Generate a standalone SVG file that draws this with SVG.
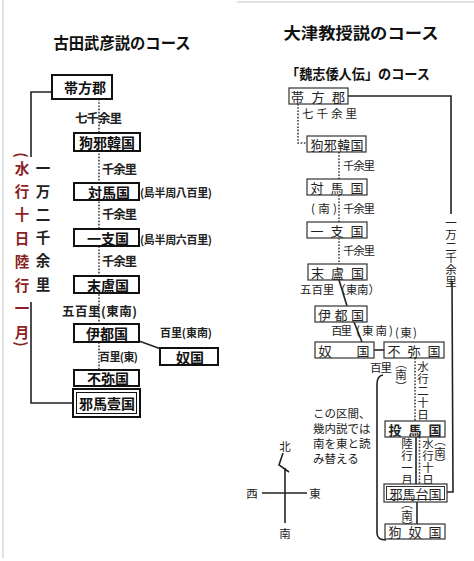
<svg xmlns="http://www.w3.org/2000/svg" width="474" height="561" viewBox="0 0 474 561">
<style>
text{font-family:"Noto Sans CJK JP","Noto Sans CJK SC",sans-serif;dominant-baseline:central;fill:#111}
.t{font-size:16px;font-weight:bold;text-anchor:middle}
.lb{fill:#fff;stroke:#111;stroke-width:2}
.ln{font-size:14px;font-weight:bold;text-anchor:middle}
.ll{font-size:12.5px;font-weight:bold;fill:#222}
.ls{font-size:11px;font-weight:bold;fill:#222}
.red{fill:#8a1f24;font-size:14.5px;font-weight:bold}
.blk{font-size:14.5px;font-weight:bold;fill:#222}
.vt{writing-mode:vertical-rl;text-anchor:start}
.par{text-anchor:middle}
.rb{fill:#fff;stroke:#333;stroke-width:1.2}
.rn{font-size:13px;text-anchor:middle;fill:#222}
.rl{font-size:11.5px;fill:#222}
.rv{font-size:11.5px;fill:#222}
.sol{fill:none;stroke:#222;stroke-width:1.6}
.dot{fill:none;stroke:#333;stroke-width:1.5;stroke-dasharray:1.6 1.6}
.edge{stroke:#d8d8d8;stroke-width:1.5}
</style>
<rect width="474" height="561" fill="#fff"/>
<line class="edge" x1="3" y1="0" x2="3" y2="558"/>
<line class="edge" x1="237" y1="2" x2="474" y2="2"/>

<!-- ============ LEFT: 古田武彦説 ============ -->
<text class="t" x="122" y="42" textLength="137" lengthAdjust="spacingAndGlyphs">古田武彦説のコース</text>

<g id="left-connectors">
  <polyline class="sol" points="52,92 31,92 31,157"/>
  <polyline class="sol" points="31,302 31,403 73,403"/>
  <line class="dot" x1="99" y1="99" x2="99" y2="370"/>
  <line class="sol" x1="139" y1="341" x2="161" y2="349"/>
</g>

<g id="left-labels">
  <text class="ll" x="75" y="117" textLength="47">七千余里</text>
  <text class="ll" x="102" y="168" textLength="35">千余里</text>
  <text class="ls" x="140" y="192" textLength="72">(島半周八百里)</text>
  <text class="ll" x="102" y="213" textLength="35">千余里</text>
  <text class="ls" x="140" y="239" textLength="72">(島半周六百里)</text>
  <text class="ll" x="102" y="260" textLength="35">千余里</text>
  <text class="ll" x="62" y="310" textLength="75">五百里(東南)</text>
  <text class="ls" x="160" y="332" textLength="52">百里(東南)</text>
  <text class="ls" x="99" y="356" textLength="39">百里(東)</text>
</g>

<g id="left-vertical">
  <text class="red par" font-size="13" transform="translate(22,155) rotate(90)">(</text>
  <text class="red vt" x="22" y="160.75" letter-spacing="8.93">水行十日陸行一月</text>
  <text class="red par" font-size="13" transform="translate(22,344) rotate(90)">)</text>
  <text class="blk vt" x="43" y="160.75" letter-spacing="8.7">一万二千余里</text>
</g>

<g id="L-taihou"><rect class="lb" x="52" y="75" width="60" height="24"/><text class="ln" x="85" y="87">帯方郡</text></g>
<g id="L-kuyakan"><rect class="lb" x="74" y="133" width="66" height="18"/><text class="ln" x="107" y="142" font-size="13">狗邪韓国</text></g>
<g id="L-tsushima"><rect class="lb" x="74" y="183" width="65" height="17"/><text class="ln" x="109" y="191.5">対馬国</text></g>
<g id="L-ikoku"><rect class="lb" x="74" y="229" width="65" height="17"/><text class="ln" x="108" y="237.5">一支国</text></g>
<g id="L-matsuro"><rect class="lb" x="74" y="276" width="65" height="17"/><text class="ln" x="108" y="284.5">末盧国</text></g>
<g id="L-ito"><rect class="lb" x="74" y="324" width="65" height="18"/><text class="ln" x="107" y="333">伊都国</text></g>
<g id="L-na"><rect class="lb" x="160" y="348" width="58" height="17"/><text class="ln" x="190" y="356.5">奴国</text></g>
<g id="L-fumi"><rect class="lb" x="74" y="370" width="65" height="16"/><text class="ln" x="108" y="378">不弥国</text></g>
<g id="L-yamaichi">
  <rect class="lb" x="73" y="389" width="67" height="28"/>
  <rect fill="none" stroke="#111" stroke-width="1" x="76.5" y="392.5" width="60" height="21"/>
  <text class="ln" x="107" y="403" font-size="15.5">邪馬壹国</text>
</g>

<!-- ============ RIGHT: 大津教授説 ============ -->
<text class="t" x="361" y="32" font-size="17" textLength="155" lengthAdjust="spacingAndGlyphs">大津教授説のコース</text>
<text x="286" y="73" font-size="14" font-weight="bold" fill="#222" textLength="144" lengthAdjust="spacingAndGlyphs">「魏志倭人伝」のコース</text>

<g id="right-connectors">
  <polyline class="sol" points="348,96 451,96 451,214" stroke-width="1.4"/>
  <polyline class="sol" points="452,281 453,492 447,492" stroke-width="1.4"/>
  <polyline class="dot" points="298,104 298,143 307,143"/>
  <line class="dot" x1="339" y1="152" x2="339" y2="179"/>
  <line class="dot" x1="339" y1="195" x2="339" y2="222"/>
  <line class="dot" x1="339" y1="238" x2="339" y2="264"/>
  <line class="sol" x1="339" y1="280" x2="347" y2="306" stroke-width="1.4"/>
  <line class="sol" x1="354" y1="322" x2="362" y2="342" stroke-width="1.4"/>
  <line class="sol" x1="374" y1="350" x2="384" y2="350" stroke-width="1.4"/>
  <line class="dot" x1="415" y1="358" x2="415" y2="421"/>
  <line class="sol" x1="416" y1="437" x2="416" y2="484" stroke-width="1.3"/>
  <line class="dot" x1="419.5" y1="437" x2="419.5" y2="484"/>
  <line class="sol" x1="417" y1="502" x2="417" y2="524" stroke-width="1.3"/>
  <path class="sol" stroke-width="1.2" d="M383 375 Q377 376 377 384 L377 533 Q377 540 386 540"/>
</g>

<g id="right-labels">
  <text class="rl" x="302" y="113" font-size="12.5" textLength="55">七千余里</text>
  <text class="rl" x="343" y="165" textLength="32">千余里</text>
  <text class="rl" x="311" y="208" textLength="26">(南)</text>
  <text class="rl" x="343" y="208" textLength="32">千余里</text>
  <text class="rl" x="343" y="250" textLength="32">千余里</text>
  <text class="rl" x="300" y="289" font-size="11" textLength="80">五百里（東南）</text>
  <text class="rl" x="331" y="330" textLength="21">百里</text>
  <text class="rl" x="356" y="330" textLength="37">(東南)</text>
  <text class="rl" x="395" y="332" font-size="11" textLength="22">(東)</text>
  <text class="rl" x="370" y="367" textLength="22">百里</text>

  <text class="rv vt" font-size="9" x="401" y="357.5">︵南︶</text>
  <text class="rv vt" font-size="10" x="451" y="217" letter-spacing="0.2">一万二千余里</text>
  <text class="rv vt" font-size="11" x="423" y="360.5" letter-spacing="0.5">水行二十日</text>
  <text class="rv vt" font-size="11.5" x="407" y="438.25" letter-spacing="0.5">陸行一月</text>
  <text class="rv vt" font-size="11.5" x="428" y="438.25" letter-spacing="0.5">水行十日</text>
  <text class="rv vt" font-size="9.5" x="440" y="435">︵南︶</text>
  <text class="rv vt" font-size="10" x="407" y="498">︵南︶</text>

  <text class="rl" font-size="11.5">
    <tspan x="313" y="413">この区間、</tspan>
    <tspan x="313" y="428">幾内説では</tspan>
    <tspan x="313" y="443">南を東と読</tspan>
    <tspan x="313" y="458">み替える</tspan>
  </text>
</g>

<g id="compass">
  <polyline class="sol" stroke-width="1.1" points="283,453 279,465 289,472"/>
  <line class="sol" stroke-width="1.1" x1="285" y1="468" x2="285" y2="523"/>
  <line class="sol" stroke-width="1.1" x1="262" y1="493" x2="307" y2="493"/>
  <text class="rv par" font-size="10" x="285" y="446">北</text>
  <text class="rv par" font-size="10" x="252" y="493">西</text>
  <text class="rv par" font-size="10" x="315" y="493">東</text>
  <text class="rv par" font-size="10" x="285" y="533">南</text>
</g>

<g id="R-taihou"><rect class="rb" x="289" y="88" width="59" height="16"/><text class="rn" x="318" y="96" textLength="54">帯 方 郡</text></g>
<g id="R-kuyakan"><rect class="rb" x="307" y="136" width="59" height="16"/><text class="rn" x="337" y="144" textLength="53">狗邪韓国</text></g>
<g id="R-tsushima"><rect class="rb" x="307" y="179" width="60" height="16"/><text class="rn" x="337" y="187" textLength="53">対 馬 国</text></g>
<g id="R-ikoku"><rect class="rb" x="307" y="222" width="60" height="16"/><text class="rn" x="337" y="230" textLength="53">一 支 国</text></g>
<g id="R-matsuro"><rect class="rb" x="308" y="264" width="59" height="16"/><text class="rn" x="337.5" y="272" textLength="53">末 盧 国</text></g>
<g id="R-ito"><rect class="rb" x="315" y="306" width="52" height="16"/><text class="rn" x="341" y="314" textLength="46">伊 都 国</text></g>
<g id="R-na"><rect class="rb" x="315" y="342" width="59" height="16"/><text class="rn" x="344" y="350" textLength="51">奴　　国</text></g>
<g id="R-fumi"><rect class="rb" x="384" y="342" width="60" height="16"/><text class="rn" x="414" y="350" textLength="53">不 弥 国</text></g>
<g id="R-toma"><rect class="rb" x="385" y="421" width="60" height="16"/><text class="rn" x="415" y="429" textLength="53" font-weight="bold">投 馬 国</text></g>
<g id="R-yamatai">
  <rect class="rb" x="384" y="484" width="63" height="18"/>
  <rect fill="none" stroke="#333" stroke-width="1" x="386.5" y="486.5" width="58" height="13"/>
  <text class="rn" x="415.5" y="493" textLength="52">邪馬台国</text>
</g>
<g id="R-kuna"><rect class="rb" x="385" y="524" width="60" height="15"/><text class="rn" x="415" y="531.5" textLength="53">狗 奴 国</text></g>
</svg>
